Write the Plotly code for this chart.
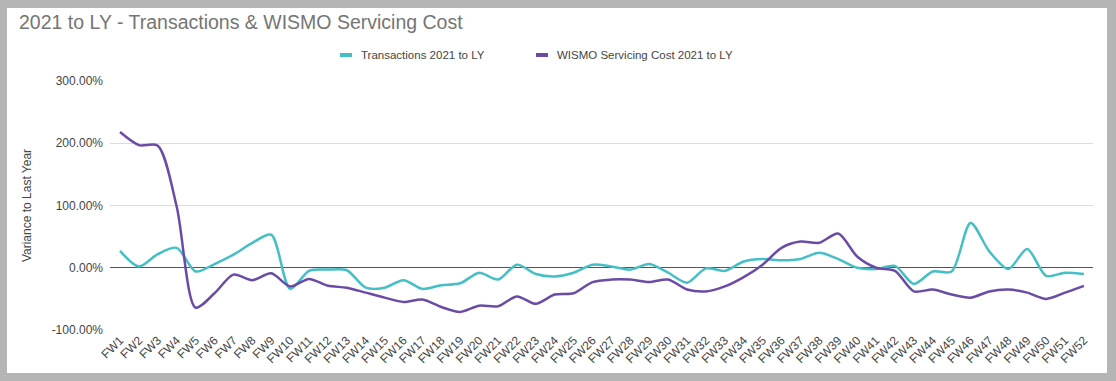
import plotly.graph_objects as go

weeks = [f"FW{i}" for i in range(1, 53)]

transactions = [27, 2, 22, 32, -6, 6, 21, 40, 53, -34,
                -5, -3, -4, -32, -32, -20, -34, -28, -25, -8,
                -19, 5, -10, -14, -8, 5, 2, -3, 6, -8,
                -24, -1, -5, 10, 14, 12, 14, 24, 14, 0,
                -2, 3, -26, -6, -6, 72, 26, -2, 30, -13,
                -8, -10]

wismo = [218, 197, 196, 98, -64, -41, -11, -20, -9, -30,
         -18, -29, -32, -40, -48, -55, -51, -63, -71, -61,
         -62, -46, -58, -43, -41, -23, -19, -19, -23, -19,
         -35, -38, -30, -15, 5, 32, 42, 40, 55, 18,
         0, -5, -38, -35, -43, -48, -38, -35, -40, -50,
         -40, -29]

y_ticks = [-100, 0, 100, 200, 300]
y_tick_labels = ["-100.00%", "0.00%", "100.00%", "200.00%", "300.00%"]

series_names = ["Transactions 2021 to LY", "WISMO Servicing Cost 2021 to LY"]
colors = ["#45bfc6", "#6a4ca6"]

FONT = "Liberation Sans, Arial, sans-serif"

fig = go.Figure()
for name, vals, col in zip(series_names, [transactions, wismo], colors):
    fig.add_trace(go.Scatter(
        x=weeks, y=vals, name=name, mode="lines",
        line=dict(color=col, width=2.5, shape="spline", smoothing=0.8),
        showlegend=False,
    ))

W, H = 1116, 381
L, R, T, B = 110, 23, 81, 51
pw = W - L - R
ph = H - T - B

def px_x(p):
    return (p - L) / pw

def px_y(p):
    return 1 - (p - T) / ph

shapes = [
    dict(type="rect", xref="paper", yref="paper", layer="below",
         x0=px_x(7), x1=px_x(1107), y0=px_y(373), y1=px_y(8),
         fillcolor="white", line=dict(width=0)),
]
annotations = [
    dict(text="2021 to LY - Transactions & WISMO Servicing Cost",
         xref="paper", yref="paper", x=px_x(17), y=px_y(22),
         xanchor="left", yanchor="middle", showarrow=False,
         font=dict(family=FONT, size=19.5, color="#757575")),
]

legend_items = [(340, series_names[0], colors[0]), (536, series_names[1], colors[1])]
for xs, name, col in legend_items:
    shapes.append(dict(type="rect", xref="paper", yref="paper",
                       x0=px_x(xs), x1=px_x(xs + 12), y0=px_y(57), y1=px_y(53),
                       fillcolor=col, line=dict(width=0)))
    annotations.append(dict(text=name, xref="paper", yref="paper",
                            x=px_x(xs + 19), y=px_y(55), xanchor="left", yanchor="middle",
                            showarrow=False, font=dict(family=FONT, size=11.5, color="#444444")))

fig.update_layout(
    width=W, height=H,
    margin=dict(l=L, r=R, t=T, b=B, autoexpand=False),
    paper_bgcolor="#b5b5b5",
    plot_bgcolor="white",
    font=dict(family=FONT, size=12, color="#444444"),
    shapes=shapes,
    annotations=annotations,
    showlegend=False,
)

fig.update_xaxes(
    type="category", range=[-0.53, 51.48],
    tickangle=-45, showgrid=False, zeroline=False, showline=False,
    ticks="", tickfont=dict(family=FONT, size=12, color="#444444"),
)
fig.update_yaxes(
    range=[-100, 300], tickvals=y_ticks, ticktext=y_tick_labels,
    showgrid=True, gridcolor="#dcdcdc", gridwidth=1,
    zeroline=True, zerolinecolor="#555555", zerolinewidth=1,
    showline=False, ticks="", ticklabelstandoff=6,
    tickfont=dict(family=FONT, size=12, color="#444444"),
    title=dict(text="Variance to Last Year", font=dict(family=FONT, size=12, color="#444444"), standoff=17),
)

fig.write_html("out.html")
